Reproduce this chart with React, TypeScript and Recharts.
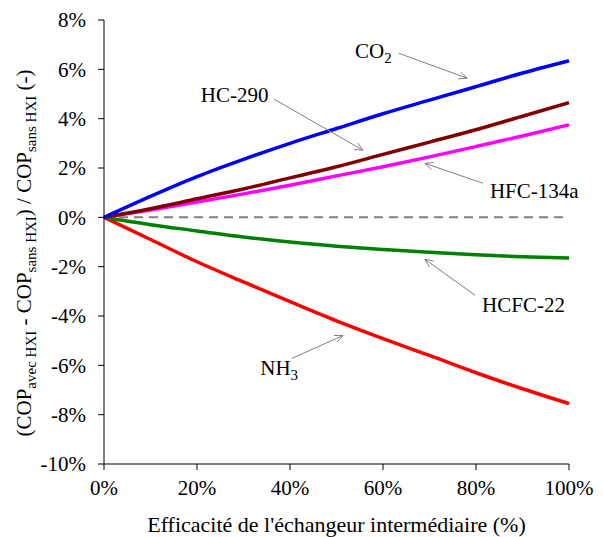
import React from 'react';
import { LineChart, Line, XAxis, YAxis, ReferenceLine, ReferenceDot } from 'recharts';

// efficacité de l'échangeur (%)
const efficacite = [0, 10, 20, 30, 40, 50, 60, 70, 80, 90, 100];

// gain de COP (%)
const co2 = [0, 0.85, 1.65, 2.35, 3.0, 3.6, 4.2, 4.75, 5.3, 5.85, 6.35];
const hc290 = [0, 0.35, 0.75, 1.15, 1.6, 2.05, 2.55, 3.05, 3.55, 4.1, 4.65];
const hfc134a = [0, 0.3, 0.62, 0.95, 1.3, 1.68, 2.05, 2.45, 2.87, 3.3, 3.75];
const hcfc22 = [0, -0.3, -0.55, -0.8, -1.0, -1.17, -1.3, -1.42, -1.52, -1.6, -1.65];
const nh3 = [0, -0.9, -1.8, -2.62, -3.42, -4.2, -4.92, -5.6, -6.3, -6.95, -7.55];

const xTicks = [0, 20, 40, 60, 80, 100];
const yTicks = [-10, -8, -6, -4, -2, 0, 2, 4, 6, 8];

const data = efficacite.map((x, i) => ({
  x,
  co2: co2[i],
  hc290: hc290[i],
  hfc134a: hfc134a[i],
  hcfc22: hcfc22[i],
  nh3: nh3[i],
}));

// annotations: texte, position du texte, flèche (début -> fin), en coordonnées de données
const annotations = [
  { name: 'CO', sub: '2', tx: 54.0, ty: 6.45, x1: 63.4, y1: 6.65, x2: 78.1, y2: 5.64 },
  { name: 'HC-290', sub: '', tx: 20.8, ty: 4.67, x1: 36.6, y1: 4.79, x2: 55.7, y2: 2.72 },
  { name: 'HFC-134a', sub: '', tx: 83.0, ty: 0.77, x1: 81.5, y1: 1.38, x2: 69.0, y2: 2.19 },
  { name: 'HCFC-22', sub: '', tx: 81.3, ty: -3.85, x1: 79.8, y1: -3.16, x2: 69.0, y2: -1.7 },
  { name: 'NH', sub: '3', tx: 33.6, ty: -6.41, x1: 40.4, y1: -5.72, x2: 51.4, y2: -4.79 },
];

const FONT = "'Liberation Serif', Tinos, 'Times New Roman', 'DejaVu Serif', serif";

const Arrow = (props: any) => {
  const { x1, y1, x2, y2 } = props;
  const a = Math.atan2(y2 - y1, x2 - x1);
  const len = 9;
  const s = 0.42;
  const ax = x2 - len * Math.cos(a - s);
  const ay = y2 - len * Math.sin(a - s);
  const bx = x2 - len * Math.cos(a + s);
  const by = y2 - len * Math.sin(a + s);
  return (
    <g stroke="#808080" strokeWidth={1} fill="none">
      <line x1={x1} y1={y1} x2={x2} y2={y2} />
      <polyline points={`${ax},${ay} ${x2},${y2} ${bx},${by}`} />
    </g>
  );
};

const makeLabel = (name: string, sub: string) => (props: any) => (
  <text x={props.cx} y={props.cy} style={{ fontFamily: FONT }} fontSize={21} fill="#000">
    {name}
    {sub ? (
      <tspan fontSize={15} dy={5}>
        {sub}
      </tspan>
    ) : null}
  </text>
);

const YTitle = () => (
  <text
    x={31}
    y={253}
    transform="rotate(-90, 31, 253)"
    textAnchor="middle"
    style={{ fontFamily: FONT, whiteSpace: 'pre' }}
    fontSize={21}
    fill="#000"
  >
    <tspan>(COP</tspan>
    <tspan fontSize={15} dy={5}>avec HXI</tspan>
    <tspan dy={-5}>{' - COP'}</tspan>
    <tspan fontSize={15} dy={5}>sans HXI</tspan>
    <tspan dy={-5}>{') / COP'}</tspan>
    <tspan fontSize={15} dy={5}>sans HXI</tspan>
    <tspan dy={-5}>{' (-)'}</tspan>
  </text>
);

const tickStyle = { fontFamily: FONT, fontSize: 21, fill: '#000', style: { fontFamily: FONT } };

export default function App() {
  return (
    <div style={{ position: 'absolute', left: 0, top: 0, background: '#fff', fontFamily: FONT }}>
      <LineChart width={603} height={537} data={data} margin={{ top: 20, right: 34, bottom: 0, left: 0 }}>
        <XAxis
          dataKey="x"
          type="number"
          domain={[0, 100]}
          ticks={xTicks}
          tickFormatter={(v) => `${v}%`}
          tick={tickStyle}
          tickSize={6}
          tickMargin={10}
          height={73}
          stroke="#000"
          label={{ value: "Efficacité de l'échangeur intermédiaire (%)", position: 'insideBottom', offset: 5, style: { fontFamily: FONT, fontSize: 22, fill: '#000' } }}
        />
        <YAxis
          type="number"
          domain={[-10, 8]}
          ticks={yTicks}
          tickFormatter={(v) => `${v}%`}
          tick={tickStyle}
          tickSize={6}
          tickMargin={12}
          width={104}
          stroke="#000"
          label={<YTitle />}
        />
        <ReferenceLine y={0} stroke="#808080" strokeWidth={2} strokeDasharray="9 6" />
        <Line dataKey="nh3" stroke="#FF0000" strokeWidth={3.5} dot={false} type="monotone" isAnimationActive={false} />
        <Line dataKey="hcfc22" stroke="#008000" strokeWidth={3.5} dot={false} type="monotone" isAnimationActive={false} />
        <Line dataKey="hfc134a" stroke="#FF00FF" strokeWidth={3.5} dot={false} type="monotone" isAnimationActive={false} />
        <Line dataKey="hc290" stroke="#800000" strokeWidth={3.5} dot={false} type="monotone" isAnimationActive={false} />
        <Line dataKey="co2" stroke="#0000FF" strokeWidth={3.5} dot={false} type="monotone" isAnimationActive={false} />
        {annotations.map((a) => (
          <ReferenceLine
            key={`arrow-${a.name}`}
            segment={[{ x: a.x1, y: a.y1 }, { x: a.x2, y: a.y2 }]}
            shape={Arrow}
          />
        ))}
        {annotations.map((a) => (
          <ReferenceDot key={`label-${a.name}`} x={a.tx} y={a.ty} r={1} shape={makeLabel(a.name, a.sub)} />
        ))}
      </LineChart>
    </div>
  );
}
